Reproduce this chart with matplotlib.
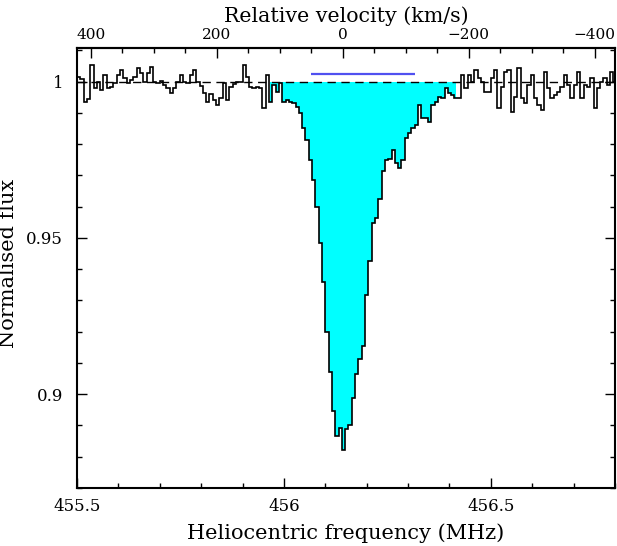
import numpy as np
import matplotlib
matplotlib.use('Agg')
import matplotlib.pyplot as plt
from matplotlib.ticker import MultipleLocator, FixedLocator, FuncFormatter

plt.rcParams['font.family'] = 'DejaVu Serif'

C_KMS = 299792.458
F0 = 456.142          # MHz, velocity zero
F_START = 455.5       # MHz, left edge of first channel
CHAN = 0.008          # MHz per channel

# normalised flux per channel
flux = [
    1.0015, 1.0008, 0.9935, 0.9946, 1.0053, 0.9979, 1.0000, 0.9974, 1.0021, 0.9979,
    0.9984, 0.9995, 1.0021, 1.0037, 1.0011, 0.9995, 1.0005, 1.0016, 1.0045, 1.0027,
    1.0000, 1.0027, 1.0048, 1.0000, 0.9995, 1.0002, 0.9989, 0.9979, 0.9963, 0.9979,
    1.0000, 1.0021, 1.0000, 0.9995, 1.0021, 1.0037, 0.9998, 0.9987, 0.9963, 0.9936,
    0.9960, 0.9942, 0.9926, 0.9947, 0.9995, 0.9942, 0.9984, 0.9992, 1.0000, 1.0000,
    1.0053, 1.0016, 0.9984, 0.9979, 0.9984, 0.9979, 0.9915, 1.0021, 0.9936, 0.9989,
    0.9968, 0.9995, 0.9936, 0.9942, 0.9936, 0.9931, 0.9920, 0.9900, 0.9852, 0.9814,
    0.9750, 0.9686, 0.9600, 0.9485, 0.9358, 0.9198, 0.9070, 0.8945, 0.8866, 0.8891,
    0.8822, 0.8888, 0.8902, 0.8987, 0.9064, 0.9112, 0.9154, 0.9319, 0.9425, 0.9549,
    0.9565, 0.9626, 0.9715, 0.9750, 0.9753, 0.9782, 0.9741, 0.9725, 0.9750, 0.9820,
    0.9836, 0.9852, 0.9862, 0.9926, 0.9884, 0.9884, 0.9871, 0.9926, 0.9936, 0.9952,
    0.9947, 0.9979, 0.9963, 0.9958, 0.9947, 0.9947, 1.0021, 0.9979, 1.0021, 1.0000,
    1.0037, 1.0011, 1.0000, 0.9968, 0.9968, 1.0011, 1.0037, 0.9915, 0.9984, 1.0032,
    1.0037, 0.9903, 0.9952, 1.0043, 0.9947, 0.9931, 0.9989, 1.0021, 0.9947, 0.9926,
    0.9910, 1.0032, 0.9979, 0.9947, 0.9958, 0.9968, 0.9984, 1.0021, 0.9989, 0.9947,
    0.9989, 1.0032, 0.9947, 0.9989, 0.9984, 1.0011, 0.9915, 0.9979, 1.0000, 1.0011,
    0.9989, 1.0032, 1.0000,
]

vel_ticks = [400, 200, 0, -200, -400]     # km/s, labelled on top axis
vel_minor = list(range(400, -401, -50))

FILL_V = (115.0, -180.0)   # km/s range of shaded absorption
BAR_V = (50.0, -115.0)     # km/s range of blue bar
BAR_Y = 1.0024


def f2v(f):
    return C_KMS * (F0 - f) / F0


def v2f(v):
    return F0 * (1 - v / C_KMS)


flux = np.array(flux)
edges = F_START + CHAN * np.arange(len(flux) + 1)

fig = plt.figure(figsize=(6.17, 5.46), dpi=100)
ax = fig.add_axes([0.1248, 0.1062, 0.872, 0.8050])

# cyan shading between spectrum and continuum
f_lo, f_hi = v2f(FILL_V[0]), v2f(FILL_V[1])
idx = np.where((edges[1:] > f_lo) & (edges[:-1] < f_hi))[0]
e_fill = np.clip(edges[idx[0]:idx[-1] + 2], f_lo, f_hi)
ax.stairs(np.minimum(flux[idx], 1.0), e_fill, baseline=1.0, fill=True,
          color='cyan', lw=0, zorder=1)

ax.axhline(1.0, color='k', ls=(0, (6, 4)), lw=1.0, zorder=2)
ax.stairs(flux, edges, baseline=None, color='k', lw=1.2, zorder=3)
ax.hlines(BAR_Y, v2f(BAR_V[0]), v2f(BAR_V[1]), color='#5050f0', lw=1.6, zorder=4)

ax.set_xlim(455.5, 456.8)
ax.set_ylim(0.870, 1.0106)

fmt = FuncFormatter(lambda x, p: ('%g' % x).replace('-', '\u2212'))

ax.xaxis.set_major_locator(MultipleLocator(0.5))
ax.xaxis.set_minor_locator(MultipleLocator(0.1))
ax.yaxis.set_major_locator(MultipleLocator(0.05))
ax.yaxis.set_minor_locator(MultipleLocator(0.01))
ax.xaxis.set_major_formatter(fmt)
ax.yaxis.set_major_formatter(fmt)
ax.tick_params(which='both', direction='in', top=False, right=True, width=1.0)
ax.tick_params(which='major', length=7.5, labelsize=12)
ax.tick_params(which='minor', length=3.8)
ax.tick_params(axis='x', pad=7)
ax.tick_params(axis='y', pad=10)
for s in ax.spines.values():
    s.set_linewidth(1.5)

top = ax.secondary_xaxis('top', functions=(f2v, v2f))
top.xaxis.set_major_locator(FixedLocator(vel_ticks))
top.xaxis.set_minor_locator(FixedLocator(vel_minor))
top.xaxis.set_major_formatter(fmt)
top.tick_params(which='both', direction='in', width=1.0)
top.tick_params(which='major', length=7.5, labelsize=11, pad=5)
top.tick_params(which='minor', length=3.8)
top.spines['top'].set_linewidth(1.5)
top.set_xlabel('Relative velocity (km/s)', fontsize=14.8, labelpad=4)

ax.set_xlabel('Heliocentric frequency (MHz)', fontsize=15, labelpad=6)
ax.set_ylabel('Normalised flux', fontsize=15)
ax.yaxis.set_label_coords(-0.11, 0.51)

fig.savefig('out.png', dpi=100)
